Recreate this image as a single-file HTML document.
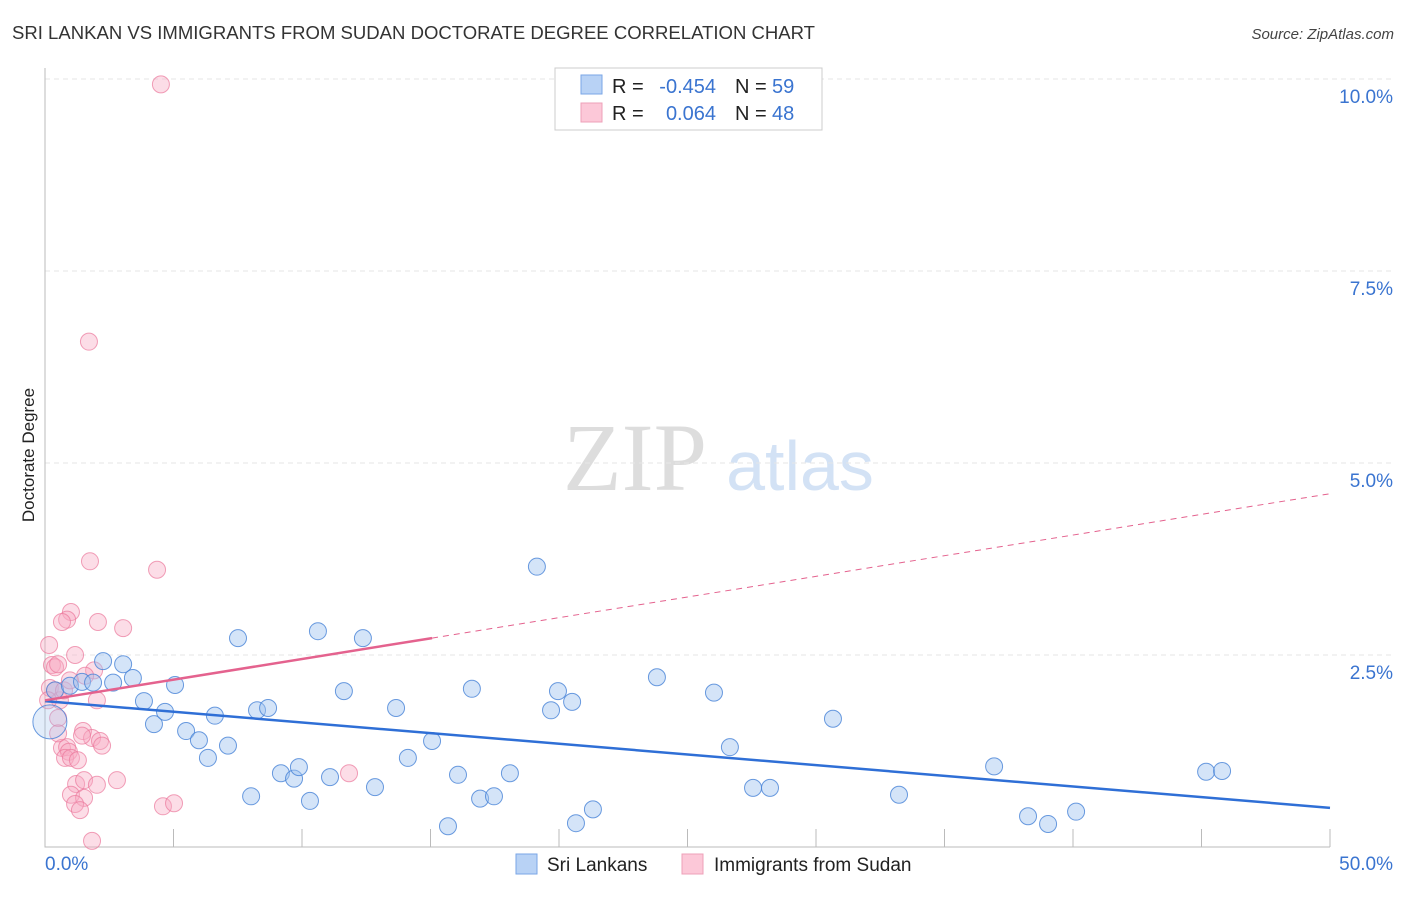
<!DOCTYPE html>
<html><head><meta charset="utf-8"><style>
html,body{margin:0;padding:0;background:#fff;}
body{width:1406px;height:892px;overflow:hidden;font-family:"Liberation Sans",sans-serif;}
</style></head><body>
<svg id="chart" width="1406" height="892" xmlns="http://www.w3.org/2000/svg" font-family="Liberation Sans, sans-serif">
<text x="12" y="39" font-size="18" fill="#333" textLength="803" lengthAdjust="spacingAndGlyphs">SRI LANKAN VS IMMIGRANTS FROM SUDAN DOCTORATE DEGREE CORRELATION CHART</text>
<text x="1394" y="39" font-size="15" fill="#444" font-style="italic" text-anchor="end">Source: ZipAtlas.com</text>
<g>
<text x="635" y="490" font-size="96" fill="#ddd" font-family="Liberation Serif, serif" text-anchor="middle">ZIP</text>
<text x="800" y="490" font-size="70" fill="#d3e2f5" text-anchor="middle">atlas</text>
</g>
<g id="grid"></g>
<g id="axes"></g>
<g id="pts"></g>
<g id="trend"></g>
<text transform="translate(34,455) rotate(-90)" font-size="17" fill="#222" text-anchor="middle">Doctorate Degree</text>
<g>
<rect x="555" y="68" width="267" height="62" fill="#fff" stroke="#ccc"/>
<rect x="581" y="75" width="21" height="19" fill="#b8d2f5" stroke="#7aa6e6"/>
<rect x="581" y="103" width="21" height="19" fill="#fcc8d8" stroke="#eea0b8"/>
<text x="612" y="93" font-size="20" fill="#222">R =</text>
<text x="716" y="93" font-size="20" fill="#3a74d0" text-anchor="end">-0.454</text>
<text x="735" y="93" font-size="20" fill="#222">N =</text>
<text x="772" y="93" font-size="20" fill="#3a74d0">59</text>
<text x="612" y="120" font-size="20" fill="#222">R =</text>
<text x="716" y="120" font-size="20" fill="#3a74d0" text-anchor="end">0.064</text>
<text x="735" y="120" font-size="20" fill="#222">N =</text>
<text x="772" y="120" font-size="20" fill="#3a74d0">48</text>
</g>
<g>
<rect x="516" y="854" width="21" height="20" fill="#b8d2f5" stroke="#7aa6e6"/>
<text x="547" y="871" font-size="19" fill="#222">Sri Lankans</text>
<rect x="682" y="854" width="21" height="20" fill="#fcc8d8" stroke="#eea0b8"/>
<text x="714" y="871" font-size="19" fill="#222">Immigrants from Sudan</text>
</g>
</svg>
<script>
const yTicks=[2.5,5.0,7.5,10.0];
const yTickLabels=["2.5%","5.0%","7.5%","10.0%"];
const xTicks=[0,5,10,15,20,25,30,35,40,45,50];
const xEndLabels=["0.0%","50.0%"];
const blueX=[0.19,0.39,0.97,1.44,1.87,2.26,2.65,3.04,3.42,3.85,4.24,4.67,5.06,5.49,5.99,6.34,6.61,7.12,7.51,8.02,8.25,8.68,9.18,9.69,9.88,10.31,10.62,11.09,11.63,12.37,12.84,13.66,14.12,15.06,15.68,16.07,16.61,16.93,17.47,18.09,19.14,19.69,19.96,20.51,20.66,21.32,23.81,26.03,26.65,27.55,28.21,30.66,33.23,36.93,38.25,39.03,40.12,45.18,45.80];
const blueY=[1.63,2.04,2.10,2.15,2.14,2.42,2.14,2.38,2.20,1.90,1.60,1.76,2.11,1.51,1.39,1.16,1.71,1.32,2.72,0.66,1.78,1.81,0.96,0.89,1.04,0.60,2.81,0.91,2.03,2.72,0.78,1.81,1.16,1.38,0.27,0.94,2.06,0.63,0.66,0.96,3.65,1.78,2.03,1.89,0.31,0.49,2.21,2.01,1.30,0.77,0.77,1.67,0.68,1.05,0.40,0.30,0.46,0.98,0.99];
const pinkX=[4.51,1.71,1.75,4.36,1.01,0.86,0.66,2.06,3.04,0.16,1.17,0.27,0.39,1.91,1.56,0.19,0.58,2.02,0.51,1.48,1.83,2.14,2.22,0.66,0.86,0.93,0.78,1.01,1.28,0.51,1.21,1.52,2.02,2.80,1.01,1.52,1.17,1.36,4.59,5.02,11.83,1.83,0.39,0.51,0.12,0.74,0.97,1.44];
const pinkY=[9.93,6.58,3.72,3.61,3.06,2.96,2.93,2.93,2.85,2.63,2.50,2.37,2.34,2.30,2.23,2.07,1.91,1.91,1.68,1.51,1.42,1.38,1.32,1.29,1.30,1.24,1.16,1.16,1.13,1.48,0.82,0.87,0.81,0.87,0.68,0.64,0.56,0.48,0.53,0.57,0.96,0.08,2.04,2.38,1.91,2.04,2.17,1.45];
const blueTrend=[1.90,0.51];
const pinkTrend=[1.91,4.60];
const pinkSolidEnd=15.06;
const NS="http://www.w3.org/2000/svg";
const X=v=>45+v/50*1285;
const Y=v=>847-v*76.8;
function mk(tag,attrs,parent){const e=document.createElementNS(NS,tag);for(const k in attrs)e.setAttribute(k,attrs[k]);document.getElementById(parent).appendChild(e);return e;}
yTicks.forEach((t,i)=>{
 const g=mk('line',{x1:45,x2:1394,y1:Y(t),y2:Y(t),stroke:'#e6e6e6','stroke-dasharray':'5,4'},'grid');
 
 
 const l=mk('text',{x:1393,y:Y(t)+24,'font-size':19,fill:'#3a74d0','text-anchor':'end'},'axes');
 l.textContent=yTickLabels[i];
 
 
});
const ax=mk('path',{d:`M45 68V847H1330`,stroke:'#bbb',fill:'none'},'axes');


xTicks.forEach(t=>{if(t>0){const tk=mk('line',{x1:X(t),x2:X(t),y1:829,y2:847,stroke:'#bbb'},'axes');
 
 }});
const xl0=mk('text',{x:45,y:870,'font-size':19,fill:'#3a74d0'},'axes');xl0.textContent=xEndLabels[0];


const xl1=mk('text',{x:1393,y:870,'font-size':19,fill:'#3a74d0','text-anchor':'end'},'axes');xl1.textContent=xEndLabels[1];


pinkX.forEach((x,i)=>{const c=mk('circle',{cx:X(x),cy:Y(pinkY[i]),r:8.5,fill:'rgba(248,170,195,0.4)',stroke:'rgba(235,120,155,0.7)','stroke-width':1},'pts');
 
 });
blueX.forEach((x,i)=>{const c=mk('circle',{cx:X(x),cy:Y(blueY[i]),r:i===0?17:8.5,fill:i===0?'rgba(160,195,240,0.3)':'rgba(160,195,240,0.45)',stroke:'rgba(70,130,215,0.8)','stroke-width':1},'pts');
 
 });
const bl=mk('line',{x1:X(0),y1:Y(blueTrend[0]),x2:X(50),y2:Y(blueTrend[1]),stroke:'#2f6fd6','stroke-width':2.5},'trend');


const pm=(pinkTrend[1]-pinkTrend[0])/50;
const ps=mk('line',{x1:X(0),y1:Y(pinkTrend[0]),x2:X(pinkSolidEnd),y2:Y(pinkTrend[0]+pm*pinkSolidEnd),stroke:'#e4628e','stroke-width':2.5},'trend');


const pd=mk('line',{x1:X(pinkSolidEnd),y1:Y(pinkTrend[0]+pm*pinkSolidEnd),x2:X(50),y2:Y(pinkTrend[1]),stroke:'#e4628e','stroke-width':1,'stroke-dasharray':'6,5'},'trend');


</script>
</body></html>
